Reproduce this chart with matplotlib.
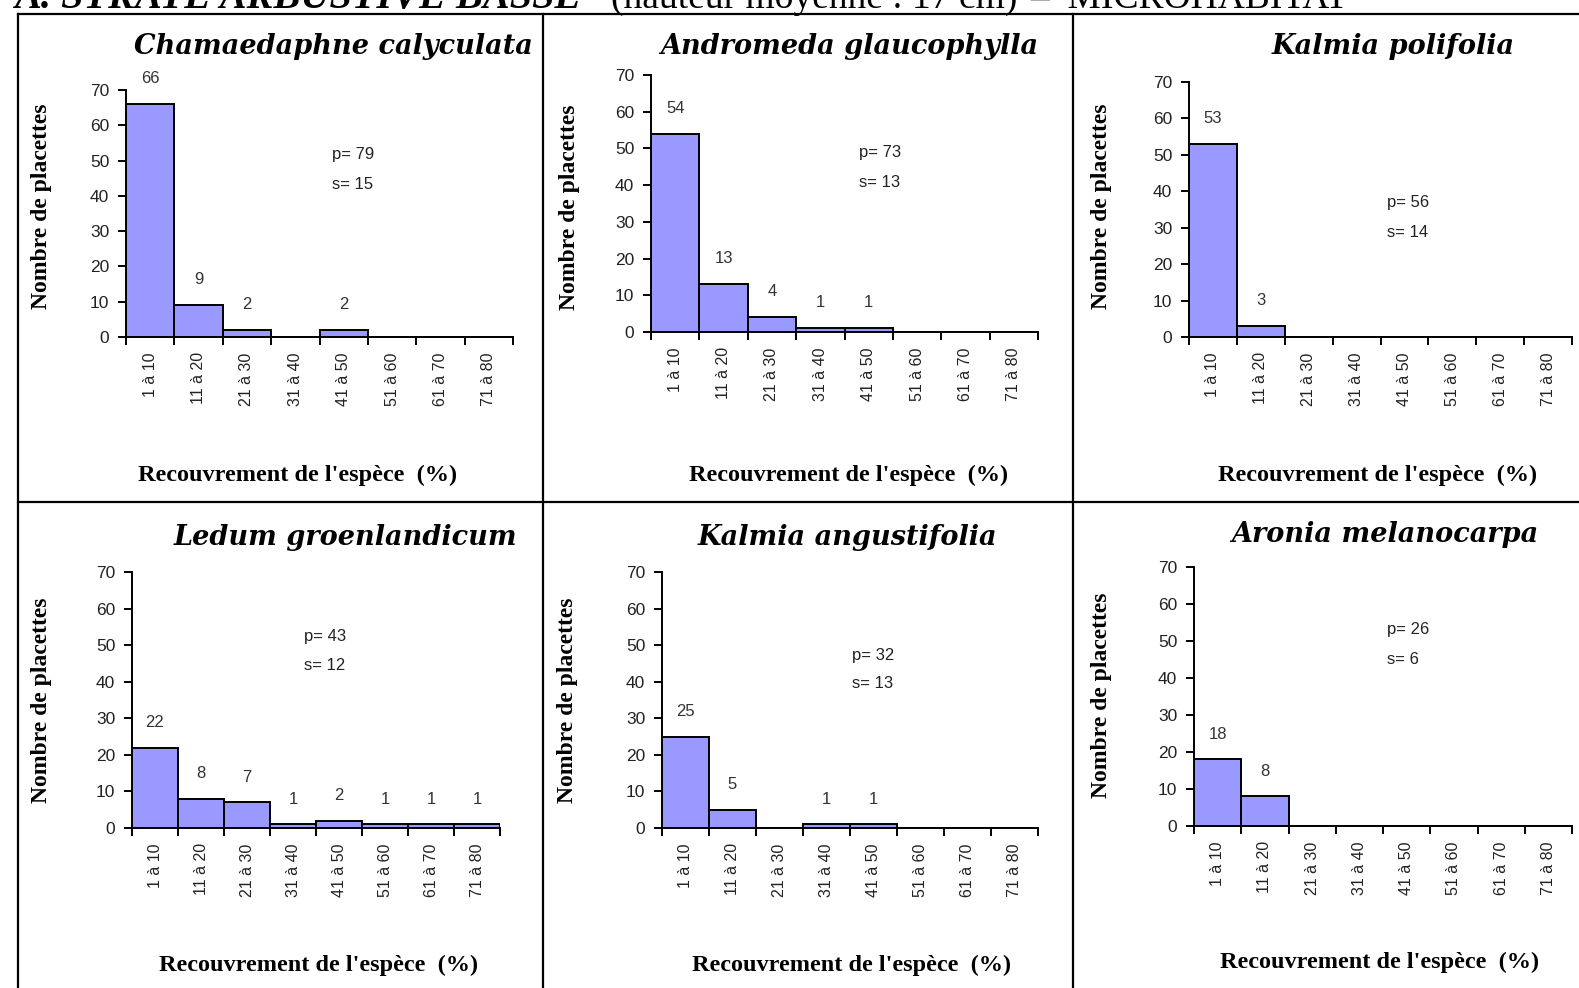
import matplotlib
matplotlib.use("Agg")
import matplotlib.pyplot as plt
from matplotlib.lines import Line2D

W, H = 1579, 988
DPI = 100

categories = ["1 à 10", "11 à 20", "21 à 30", "31 à 40",
              "41 à 50", "51 à 60", "61 à 70", "71 à 80"]

species = ["Chamaedaphne calyculata", "Andromeda glaucophylla", "Kalmia polifolia",
           "Ledum groenlandicum", "Kalmia angustifolia", "Aronia melanocarpa"]

chamaedaphne = [66, 9, 2, 0, 2, 0, 0, 0]
andromeda = [54, 13, 4, 1, 1, 0, 0, 0]
kalmia_polifolia = [53, 3, 0, 0, 0, 0, 0, 0]
ledum = [22, 8, 7, 1, 2, 1, 1, 1]
kalmia_angustifolia = [25, 5, 0, 1, 1, 0, 0, 0]
aronia = [18, 8, 0, 0, 0, 0, 0, 0]

p_values = [79, 73, 56, 43, 32, 26]
s_values = [15, 13, 14, 12, 13, 6]

yticks = [0, 10, 20, 30, 40, 50, 60, 70]

series = [chamaedaphne, andromeda, kalmia_polifolia, ledum, kalmia_angustifolia, aronia]

# axes boxes in pixels: left, y of zero line, y of 70, right
boxes = [(126, 337, 90, 513), (651, 332, 75, 1038), (1189, 337, 82, 1572),
         (132, 828, 572, 500), (662, 828, 572, 1038), (1194, 826, 567, 1572)]
# title centre (x, y) in pixels
title_pos = [(333, 47), (849, 47), (1393, 47), (345, 537), (847, 537), (1385, 535)]
# x-label centre, y-label centre
xlab_pos = [(298, 475), (849, 475), (1378, 475), (319, 965), (852, 965), (1380, 962)]
ylab_pos = [(42, 206), (569, 207), (1101, 206), (42, 700), (567, 700), (1101, 695)]
# p / s annotation location in data units (x, y of p line, y of s line)
ps_pos = [(4.26, 51.8, 43.3), (4.3, 48.8, 40.6), (4.13, 36.8, 28.6),
          (3.74, 52.5, 44.3), (4.04, 47.3, 39.6), (4.08, 53.0, 44.9)]

SANS = "Liberation Sans"
SERIF = "Liberation Serif"

fig = plt.figure(figsize=(W / DPI, H / DPI), dpi=DPI)
fig.patch.set_facecolor("white")


def fx(x):
    return x / W


def fy(y):
    return 1 - y / H


# panel grid lines
lw = 1.6
frame = [((18, 18), (14, H)), ((543, 543), (14, H)), ((1073, 1073), (14, H)),
         ((18, W), (14, 14)), ((18, W), (502, 502))]
for xs, ys in frame:
    fig.add_artist(Line2D([fx(v) for v in xs], [fy(v) for v in ys],
                          color="black", lw=lw, transform=fig.transFigure))

# page header (runs off the top edge of the page)
fig.text(fx(14), fy(8), "A. STRATE ARBUSTIVE BASSE", family=SERIF,
         fontsize=29, fontweight="bold", fontstyle="italic", va="baseline", ha="left")
fig.text(fx(611), fy(8), "(hauteur moyenne : 17 cm)", family=SERIF,
         fontsize=27, va="baseline", ha="left")
fig.text(fx(1030), fy(8), "–  MICROHABITAT", family=SERIF,
         fontsize=27, va="baseline", ha="left")

for i, vals in enumerate(series):
    L, y0, y70, R = boxes[i]
    ax = fig.add_axes([fx(L), fy(y0), (R - L) / W, (y0 - y70) / H])
    x = [k + 0.5 for k in range(len(categories))]
    ax.bar(x, vals, width=1.0, color="#9999FF", edgecolor="black", linewidth=1.4,
           zorder=2)
    for xi, v in zip(x, vals):
        if v > 0:
            ax.annotate(str(v), (xi, v), xytext=(0, 15), textcoords="offset points",
                        ha="center", va="baseline", family=SANS, fontsize=12,
                        color="#333333")
    ax.set_xlim(0, 8)
    ax.set_ylim(0, 70)
    ax.set_facecolor("none")
    for side in ("top", "right"):
        ax.spines[side].set_visible(False)
    for side in ("left", "bottom"):
        ax.spines[side].set_linewidth(1.4)
        ax.spines[side].set_zorder(3)
    ax.set_xticks(range(9))
    ax.set_xticklabels([])
    ax.set_xticks(x, minor=True)
    ax.set_xticklabels(categories, minor=True, rotation=90, family=SANS,
                       fontsize=11.5, va="top", ha="center", color="#222222")
    ax.tick_params(axis="x", which="major", direction="out", length=6, width=1.4)
    ax.tick_params(axis="x", which="minor", length=0, pad=11)
    ax.set_yticks(yticks)
    ax.set_yticklabels([str(t) for t in yticks], family=SANS, fontsize=12.5,
                       color="#222222")
    ax.tick_params(axis="y", direction="out", length=6, width=1.4, pad=6)

    px, py, sy = ps_pos[i]
    ax.text(px, py, f"p= {p_values[i]}", family=SANS, fontsize=12, va="center",
            ha="left", color="#222222")
    ax.text(px, sy, f"s= {s_values[i]}", family=SANS, fontsize=12, va="center",
            ha="left", color="#222222")

    tx, ty = title_pos[i]
    fig.text(fx(tx), fy(ty), species[i], family="DejaVu Serif", fontsize=19.5,
             fontweight="bold", fontstyle="italic", ha="center", va="center")
    lx, ly = xlab_pos[i]
    fig.text(fx(lx), fy(ly), "Recouvrement de l'espèce  (%)", family=SERIF,
             fontsize=17.5, fontweight="bold", ha="center", va="center")
    yx, yy = ylab_pos[i]
    fig.text(fx(yx), fy(yy), "Nombre de placettes", family=SERIF, fontsize=17,
             fontweight="bold", rotation=90, ha="center", va="center")

fig.savefig("out.png", dpi=DPI)
